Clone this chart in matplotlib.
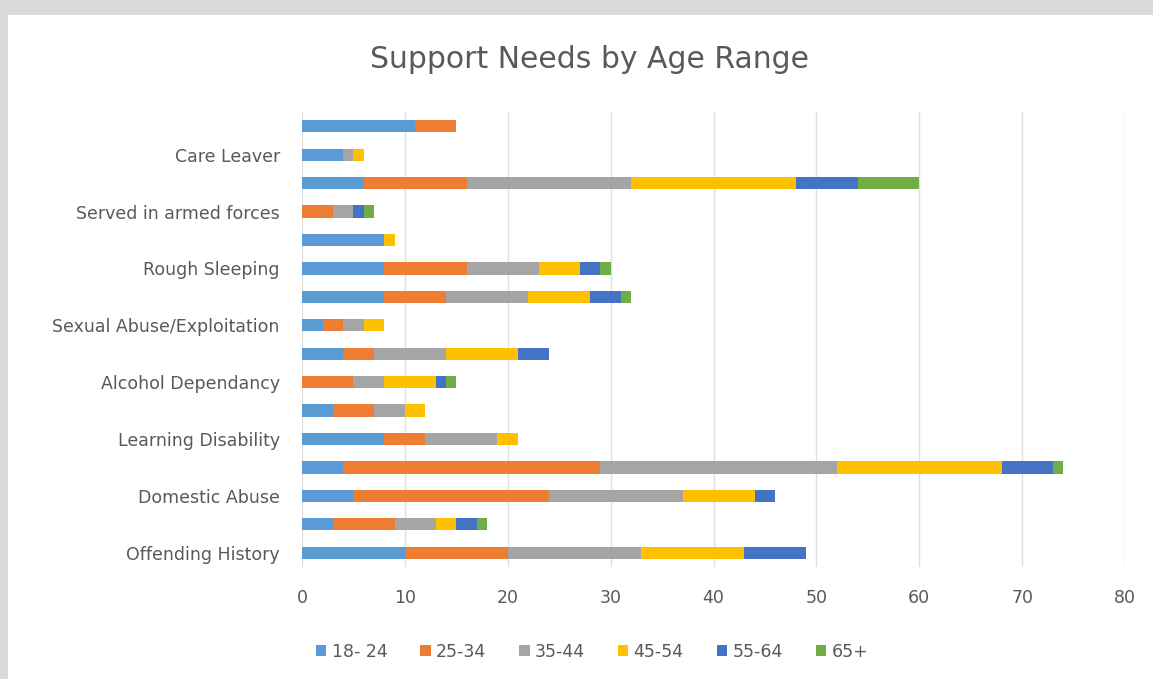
import matplotlib.pyplot as plt
import numpy as np
from matplotlib.patches import Rectangle

# categories from bottom to top, only every other one is labelled in the source
categories = ['Offending History', '', 'Domestic Abuse', '', 'Learning Disability', '',
              'Alcohol Dependancy', '', 'Sexual Abuse/Exploitation', '', 'Rough Sleeping', '',
              'Served in armed forces', '', 'Care Leaver', '']
age_ranges = ['18- 24', '25-34', '35-44', '45-54', '55-64', '65+']

age_18_24 = [10, 3, 5, 4, 8, 3, 0, 4, 2, 8, 8, 8, 0, 6, 4, 11]
age_25_34 = [10, 6, 19, 25, 4, 4, 5, 3, 2, 6, 8, 0, 3, 10, 0, 4]
age_35_44 = [13, 4, 13, 23, 7, 3, 3, 7, 2, 8, 7, 0, 2, 16, 1, 0]
age_45_54 = [10, 2, 7, 16, 2, 2, 5, 7, 2, 6, 4, 1, 0, 16, 1, 0]
age_55_64 = [6, 2, 2, 5, 0, 0, 1, 3, 0, 3, 2, 0, 1, 6, 0, 0]
age_65_up = [0, 1, 0, 1, 0, 0, 1, 0, 0, 1, 1, 0, 1, 6, 0, 0]

series = [age_18_24, age_25_34, age_35_44, age_45_54, age_55_64, age_65_up]
colours = ['#5B9BD5', '#ED7D31', '#A5A5A5', '#FFC000', '#4472C4', '#70AD47']

fig = plt.figure(figsize=(11.53, 6.79), dpi=100)
fig.patch.set_facecolor('#d9d9d9')

# white chart area inside the grey frame
bg = fig.add_axes([8 / 1153, 0, 1, 1 - 15 / 679], zorder=-5)
bg.set_facecolor('white')
bg.set_axis_off()
bg.add_patch(Rectangle((0, 0), 1, 1, transform=bg.transAxes, facecolor='white', edgecolor='none'))

ax = fig.add_axes([302 / 1153, 1 - 567 / 679, (1125 - 302) / 1153, (567 - 112) / 679])
ax.set_facecolor('none')

y = np.arange(len(categories))
left = np.zeros(len(categories))
for vals, name, col in zip(series, age_ranges, colours):
    ax.barh(y, vals, left=left, height=0.43, color=col, label=name, zorder=3)
    left += np.array(vals)

ax.set_xlim(0, 80)
ax.set_ylim(-0.5, len(categories) - 0.5)
ax.set_xticks(range(0, 81, 10))
ax.set_yticks(y)
ax.set_yticklabels(categories)
ax.grid(axis='x', color='#e0e0e0', linewidth=1, zorder=0)
for s in ax.spines.values():
    s.set_visible(False)
ax.tick_params(axis='both', length=0, labelcolor='#595959', labelsize=12.5)
ax.tick_params(axis='y', pad=16)
ax.tick_params(axis='x', pad=16)

fig.text(589 / 1153, 1 - 60 / 679, 'Support Needs by Age Range', ha='center', va='center',
         fontsize=21.5, color='#595959')

ax.legend(loc='center', bbox_to_anchor=(592 / 1153, 1 - 652 / 679), bbox_transform=fig.transFigure,
          ncol=6, frameon=False, fontsize=12.5, labelcolor='#595959', handlelength=0.6,
          handleheight=0.6, handletextpad=0.3, columnspacing=1.9)

fig.savefig('out.png', dpi=100, facecolor=fig.get_facecolor())
